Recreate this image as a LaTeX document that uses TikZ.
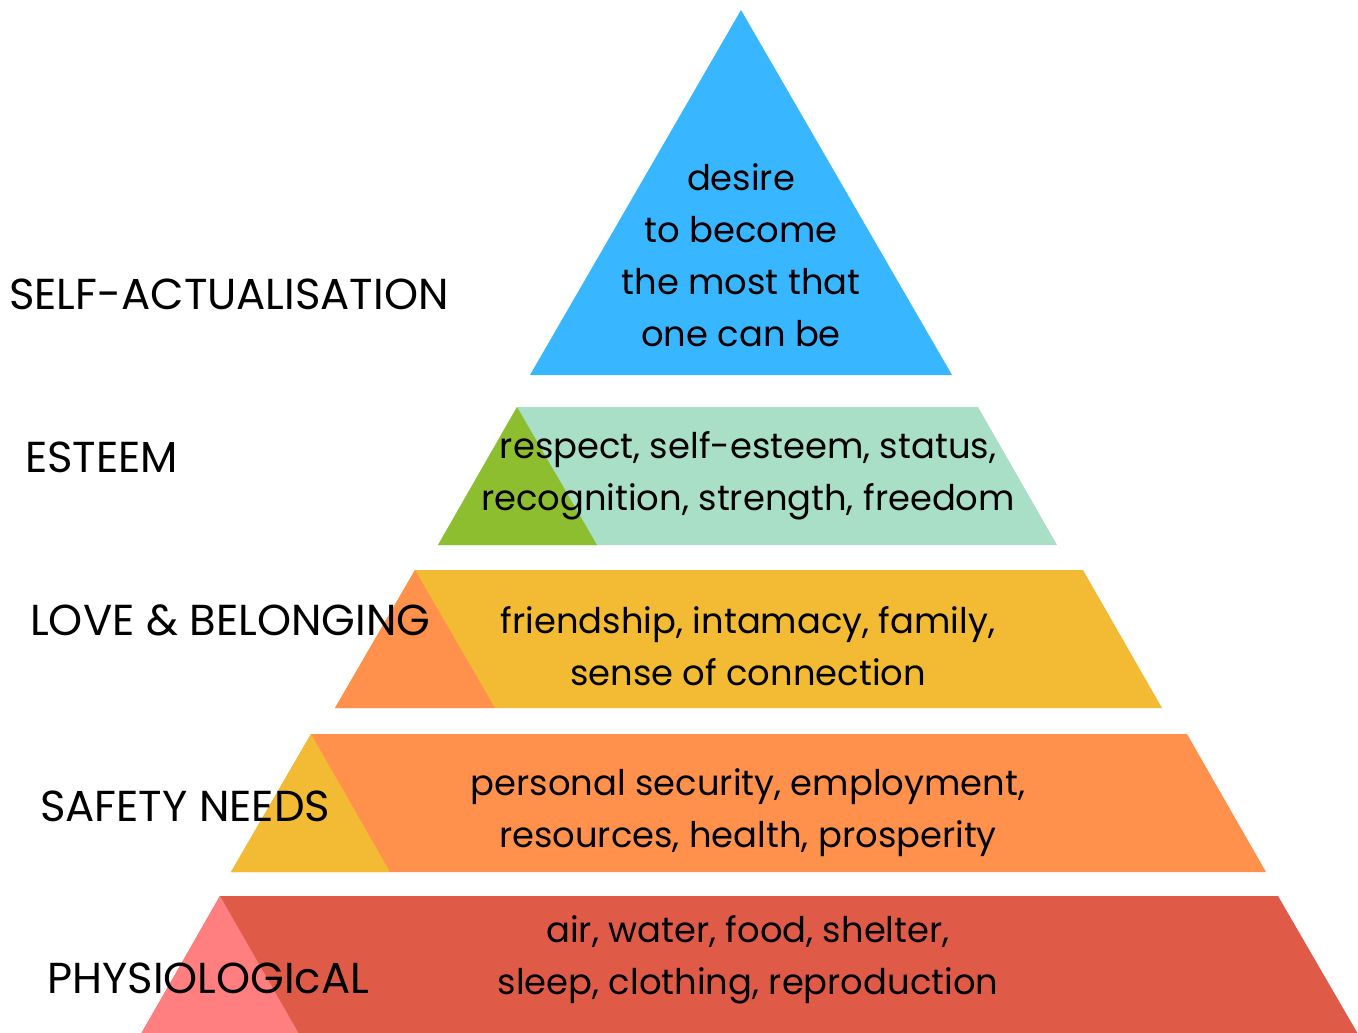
\documentclass[tikz,border=0pt]{standalone}
\usepackage{fontspec}
\setmainfont{Poppins}
\definecolor{skyblue}{HTML}{38B6FF}
\definecolor{mint}{HTML}{A8DFC6}
\definecolor{leaf}{HTML}{8CBE2F}
\definecolor{sun}{HTML}{F2BB33}
\definecolor{tangerine}{HTML}{FF914D}
\definecolor{brick}{HTML}{E05A48}
\definecolor{rose}{HTML}{FF7F80}
\begin{document}
\begin{tikzpicture}[x=0.75pt,y=-0.75pt,
  level/.style={font=\fontsize{32.5}{36}\selectfont, anchor=west, inner sep=0pt},
  body/.style={font=\fontsize{26.5}{39}\selectfont, align=center, inner sep=0pt}]
\useasboundingbox (0,0) rectangle (1358,1032);
% top: self-actualisation
\fill[skyblue] (741,10) -- (952,375) -- (530,375) -- cycle;
% esteem
\fill[mint] (517,407) -- (978,407) -- (1057,545) -- (438,545) -- cycle;
\fill[leaf] (517,407) -- (597,545) -- (438,545) -- cycle;
% love and belonging
\fill[sun] (415,570) -- (1083,570) -- (1162,708) -- (335,708) -- cycle;
\fill[tangerine] (415,570) -- (495,708) -- (335,708) -- cycle;
% safety
\fill[tangerine] (311,734) -- (1187,734) -- (1266,872) -- (231,872) -- cycle;
\fill[sun] (311,734) -- (390,872) -- (231,872) -- cycle;
% physiological
\fill[brick] (220,896) -- (1278,896) -- (1358,1034) -- (141,1034) -- cycle;
\fill[rose] (220,896) -- (299,1034) -- (141,1034) -- cycle;

% level names
\node[level] (lself) at (9,294) {SELF-ACTUALISATION};
\node[level] (lesteem) at (25,457) {ESTEEM};
\node[level] (llove) at (30,620) {LOVE \& BELONGING};
\node[level] (lsafety) at (40,806) {SAFETY NEEDS};
\node[level] (lphys) at (47,978) {PHYSIOLOGIcAL};

% descriptions
\node[body] (dself) at (741,255) {desire\\to become\\the most that\\one can be};
\node[body] (desteem) at (748,476) {respect, self-esteem, status,\\recognition, strength, freedom};
\node[body] (dlove) at (748,646) {friendship, intamacy, family,\\sense of connection};
\node[body] (dsafety) at (748,813) {personal security, employment,\\resources, health, prosperity};
\node[body] (dphys) at (748,960) {air, water, food, shelter,\\sleep, clothing, reproduction};
\end{tikzpicture}
\end{document}
